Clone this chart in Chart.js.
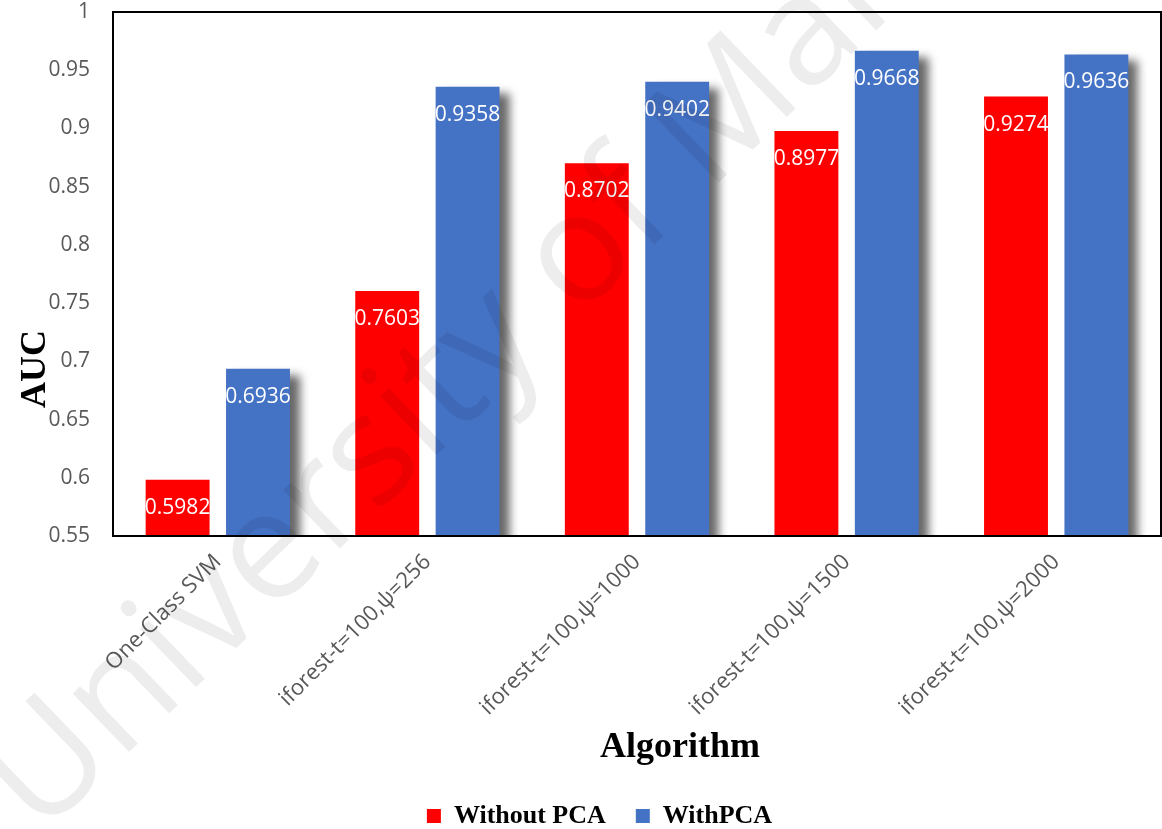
<!DOCTYPE html>
<html>
<head>
<meta charset="utf-8">
<script src="https://cdn.jsdelivr.net/npm/chart.js@4/dist/chart.umd.min.js"></script>
<style>
  html, body { margin: 0; padding: 0; background: #ffffff; }
  canvas { display: block; }
</style>
</head>
<body>
<canvas id="auc" width="1162" height="829"></canvas>
<script>
// Algorithms compared on the x axis
const categories = [
  'One-Class SVM',
  'iforest-t=100,\u03C8=256',
  'iforest-t=100,\u03C8=1000',
  'iforest-t=100,\u03C8=1500',
  'iforest-t=100,\u03C8=2000'
];
// AUC per algorithm, without and with PCA
const withoutPCA = [0.5982, 0.7603, 0.8702, 0.8977, 0.9274];
const withPCA    = [0.6936, 0.9358, 0.9402, 0.9668, 0.9636];
const seriesNames = ['Without PCA', 'WithPCA'];
const seriesColors = ['#FF0000', '#4472C4'];

// y axis ticks
const yTickValues = [0.55, 0.6, 0.65, 0.7, 0.75, 0.8, 0.85, 0.9, 0.95, 1];
const yTickLabels = ['0.55', '0.6', '0.65', '0.7', '0.75', '0.8', '0.85', '0.9', '0.95', '1'];

const xTitle = 'Algorithm';
const yTitle = 'AUC';
const watermarkText = 'University of Malaya';

const TICK_COLOR = '#595959';

// Drop shadow behind the WithPCA bars
const barShadow = {
  id: 'barShadow',
  beforeDatasetDraw(chart, args) {
    if (args.index !== 1) return;
    const ctx = chart.ctx;
    ctx.save();
    ctx.shadowColor = 'rgba(0,0,0,0.6)';
    ctx.shadowBlur = 9;
    ctx.shadowOffsetX = 10;
    ctx.shadowOffsetY = 6;
  },
  afterDatasetDraw(chart, args) {
    if (args.index !== 1) return;
    chart.ctx.restore();
  }
};

// White value labels just inside the top of each bar, plus the plot frame
const barLabelsAndFrame = {
  id: 'barLabelsAndFrame',
  afterDatasetsDraw(chart) {
    const ctx = chart.ctx;
    ctx.save();
    ctx.fillStyle = '#ffffff';
    ctx.font = '21px "Open Sans"';
    ctx.textAlign = 'center';
    ctx.textBaseline = 'middle';
    chart.data.datasets.forEach((ds, i) => {
      chart.getDatasetMeta(i).data.forEach((bar, j) => {
        ctx.fillText(String(ds.data[j]), bar.x, bar.y + 28);
      });
    });
    const a = chart.chartArea;
    ctx.strokeStyle = '#000000';
    ctx.lineWidth = 2;
    ctx.strokeRect(a.left, a.top, a.right - a.left, a.bottom - a.top);
    ctx.restore();
  }
};

// Axis titles
const axisTitles = {
  id: 'axisTitles',
  afterDraw(chart) {
    const ctx = chart.ctx;
    const a = chart.chartArea;
    ctx.save();
    ctx.fillStyle = '#000000';
    ctx.font = 'bold 36px "Liberation Serif"';
    ctx.textAlign = 'center';
    ctx.textBaseline = 'middle';
    ctx.fillText(xTitle, (a.left + a.right) / 2 + 43, a.bottom + 212);
    ctx.translate(36, (a.top + a.bottom) / 2 + 95);
    ctx.rotate(-Math.PI / 2);
    ctx.fillText(yTitle, 0, 0);
    ctx.restore();
  }
};

// Faint diagonal watermark across the page
const watermark = {
  id: 'watermark',
  afterDraw(chart) {
    const ctx = chart.ctx;
    ctx.save();
    ctx.fillStyle = 'rgba(0,0,0,0.07)';
    ctx.font = '152px "Open Sans"';
    ctx.textAlign = 'left';
    ctx.textBaseline = 'alphabetic';
    ctx.translate(40, 838);
    ctx.rotate(-44 * Math.PI / 180);
    ctx.fillText(watermarkText, 0, 0);
    ctx.restore();
  }
};

new Chart(document.getElementById('auc'), {
  type: 'bar',
  data: {
    labels: categories,
    datasets: [
      { label: seriesNames[0], data: withoutPCA, backgroundColor: seriesColors[0], borderWidth: 0 },
      { label: seriesNames[1], data: withPCA, backgroundColor: seriesColors[1], borderWidth: 0 }
    ]
  },
  options: {
    responsive: false,
    animation: false,
    devicePixelRatio: 1,
    layout: { padding: { left: 38, right: 1, top: 12, bottom: -10 } },
    datasets: { bar: { barPercentage: 0.795, categoryPercentage: 0.767 } },
    plugins: {
      tooltip: { enabled: false },
      legend: {
        position: 'bottom',
        labels: {
          color: '#000000',
          font: { family: 'Liberation Serif', size: 26, weight: 'bold' },
          boxWidth: 14,
          boxHeight: 14,
          padding: 30
        }
      }
    },
    scales: {
      x: {
        grid: { display: false, drawTicks: false },
        border: { display: false },
        ticks: {
          color: TICK_COLOR,
          font: { family: 'Open Sans', size: 22 },
          minRotation: 45,
          maxRotation: 45,
          autoSkip: false,
          padding: 13
        },
        afterFit(scale) { scale.height = 237; }
      },
      y: {
        min: 0.55,
        max: 1,
        grid: { display: false, drawTicks: false },
        border: { display: false },
        ticks: {
          color: TICK_COLOR,
          font: { family: 'Open Sans', size: 21 },
          padding: 23,
          callback: (value, index) => yTickLabels[index]
        },
        afterBuildTicks(scale) { scale.ticks = yTickValues.map(v => ({ value: v })); },
        afterFit(scale) {
          scale.width = 75;
          scale.paddingTop = 0;
          scale.paddingBottom = 0;
        }
      }
    }
  },
  plugins: [barShadow, barLabelsAndFrame, axisTitles, watermark]
});
</script>
</body>
</html>
